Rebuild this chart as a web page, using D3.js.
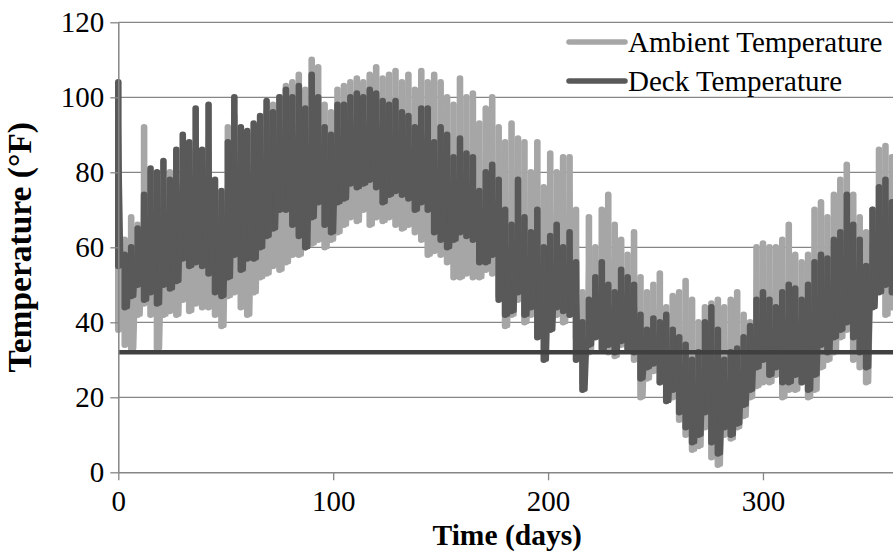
<!DOCTYPE html>
<html>
<head>
<meta charset="utf-8">
<script src="https://cdn.jsdelivr.net/npm/d3@7"></script>
<style>
  html, body { margin: 0; padding: 0; background: #fff; }
  svg { display: block; }
</style>
</head>
<body>
<svg id="chart" width="893" height="556"></svg>
<script>
const days = [0,3,6,9,12,15,18,21,24,27,30,33,36,39,42,45,48,51,54,57,60,
  63,66,69,72,75,78,81,84,87,90,93,96,99,102,105,108,111,114,117,120,
  123,126,129,132,135,138,141,144,147,150,153,156,159,162,165,168,171,174,177,180,
  183,186,189,192,195,198,201,204,207,210,213,216,219,222,225,228,231,234,237,240,
  243,246,249,252,255,258,261,264,267,270,273,276,279,282,285,288,291,294,297,300,
  303,306,309,312,315,318,321,324,327,330,333,336,339,342,345,348,351,354,357,360];

const ambientHigh = [70,62,68,66,92,80,65,70,80,72,76,80,86,82,78,74,72,92,95,85,86,
  90,92,96,98,100,103,104,106,102,110,108,98,96,102,103,104,105,104,106,108,
  105,106,107,104,106,102,107,104,106,104,100,98,105,100,101,93,97,100,92,88,
  93,89,88,80,88,76,85,80,84,84,70,48,68,60,70,74,66,62,58,64,
  52,48,50,53,44,47,48,51,46,40,44,45,46,44,46,48,42,40,60,61,
  60,60,62,66,58,56,58,70,72,68,74,78,82,74,68,64,70,86,87,84];

const ambientLow = [38,34,33,42,45,42,33,42,43,42,46,43,45,44,44,42,39,47,48,44,42,
  48,52,53,55,54,56,58,58,60,61,62,60,62,64,66,68,67,70,66,68,
  67,68,66,65,66,64,62,58,59,58,56,52,52,53,52,52,54,53,47,39,
  42,46,40,42,44,38,40,42,40,42,36,24,32,38,36,32,31,34,33,30,
  20,25,27,24,19,20,14,10,6,7,12,4,2,10,9,12,15,20,23,24,
  24,26,20,22,22,24,20,22,28,30,32,36,38,30,28,24,46,50,42,44];

const deckHigh = [104,58,60,65,74,81,80,83,78,86,90,88,97,86,98,78,75,88,100,92,91,
  93,95,99,96,100,102,100,103,97,106,100,92,90,98,98,100,101,100,102,101,
  99,98,99,96,95,92,97,97,88,92,90,84,89,85,84,75,80,82,78,70,
  66,78,68,64,70,60,63,66,60,64,56,40,46,52,56,50,48,54,52,50,
  42,38,41,40,42,38,36,34,30,32,40,44,38,30,32,33,36,39,46,48,
  46,44,48,50,49,46,50,56,58,57,62,64,74,66,62,55,70,76,78,72];

const deckLow = [55,44,47,50,46,48,45,50,49,51,57,55,56,55,53,48,47,52,58,54,57,
  57,60,63,65,70,70,66,63,60,68,72,66,64,72,73,77,76,77,78,76,
  72,74,75,74,73,70,72,70,64,62,60,62,64,63,62,56,56,58,46,42,
  43,48,42,44,36,30,38,44,43,42,30,22,34,36,33,34,32,35,33,32,
  25,28,29,24,19,22,16,12,8,10,16,8,5,12,10,13,18,22,28,30,
  26,28,24,24,26,24,22,26,34,32,36,38,40,36,32,28,44,48,50,48];

const freezingPoint = 32;
const yTicks = [0,20,40,60,80,100,120];
const xTicks = [0,100,200,300];
const seriesNames = ["Ambient Temperature", "Deck Temperature"];
const seriesColors = ["#a6a6a6", "#595959"];

// ---- layout ----
const FONT = "'Liberation Serif', 'Times New Roman', serif";
const svg = d3.select("#chart");
const x = d3.scaleLinear().domain([0, 362]).range([118.3, 896.2]);
const y = d3.scaleLinear().domain([0, 120]).range([472.3, 22.3]);
const gridColor = "#868686";
const fontSize = 29;

// gridlines
svg.append("g").selectAll("line").data(yTicks.filter(t => t > 0)).join("line")
  .attr("x1", x.range()[0]).attr("x2", x.range()[1])
  .attr("y1", d => y(d)).attr("y2", d => y(d))
  .attr("stroke", gridColor).attr("stroke-width", 1.3);

// each series: a thick rounded daily swing stroke from the low to the high of each window,
// joined by the zigzag path that the raw trace follows
const rows = (lo, hi) => days.map((d, i) => ({ d, lo: lo[i], hi: hi[i] }));
const zig = d3.line().x(p => x(p[0])).y(p => y(p[1]));

const plot = svg.append("g");
[[ambientLow, ambientHigh], [deckLow, deckHigh]].forEach(([lo, hi], i) => {
  const data = rows(lo, hi);
  const g = plot.append("g");
  g.selectAll("line").data(data).join("line")
    .attr("x1", r => x(r.d)).attr("x2", r => x(r.d))
    .attr("y1", r => y(r.lo)).attr("y2", r => y(r.hi))
    .attr("stroke", seriesColors[i]).attr("stroke-width", 6.6).attr("stroke-linecap", "round");
  const pts = [];
  data.forEach(r => { pts.push([r.d, r.hi]); pts.push([r.d + 1.5, r.lo]); });
  g.append("path").attr("d", zig(pts))
    .attr("fill", "none").attr("stroke", seriesColors[i])
    .attr("stroke-width", 4).attr("stroke-linejoin", "round");
});

// freezing line
svg.append("line")
  .attr("x1", x.range()[0]).attr("x2", x.range()[1])
  .attr("y1", y(freezingPoint)).attr("y2", y(freezingPoint))
  .attr("stroke", "#404040").attr("stroke-width", 4.5);

// axes
const yAxis = d3.axisLeft(y).tickValues(yTicks).tickSize(8).tickSizeOuter(0).tickPadding(6);
const gy = svg.append("g").attr("transform", `translate(${x.range()[0]},0)`).call(yAxis);
const xAxis = d3.axisBottom(x).tickValues(xTicks).tickSize(8).tickSizeOuter(0).tickPadding(10.5);
const gx = svg.append("g").attr("transform", `translate(0,${y(0)})`).call(xAxis);
[gx, gy].forEach(g => {
  g.attr("font-family", FONT).attr("font-size", fontSize);
  g.select(".domain").attr("stroke", gridColor).attr("stroke-width", 1.5);
  g.selectAll(".tick line").attr("stroke", gridColor).attr("stroke-width", 1.3);
  g.selectAll(".tick text").attr("fill", "#000");
});

// axis titles
svg.append("text")
  .attr("x", (x.range()[0] + x.range()[1]) / 2).attr("y", 545)
  .attr("text-anchor", "middle").attr("font-weight", "bold")
  .attr("font-family", FONT).attr("font-size", 29.5)
  .text("Time (days)");
svg.append("text")
  .attr("transform", `translate(31,${(y.range()[0] + y.range()[1]) / 2}) rotate(-90)`)
  .attr("text-anchor", "middle").attr("font-weight", "bold")
  .attr("font-family", FONT).attr("font-size", 33.5)
  .text("Temperature (°F)");

// legend
const legend = svg.append("g");
const legendRows = [52, 91];
seriesNames.forEach((name, i) => {
  const base = legendRows[i];
  legend.append("line")
    .attr("x1", 569).attr("x2", 625)
    .attr("y1", base - 10).attr("y2", base - 10)
    .attr("stroke", seriesColors[i]).attr("stroke-width", 5.5).attr("stroke-linecap", "round");
  legend.append("text")
    .attr("x", 628).attr("y", base)
    .attr("font-family", FONT).attr("font-size", fontSize)
    .text(name);
});
</script>
</body>
</html>
